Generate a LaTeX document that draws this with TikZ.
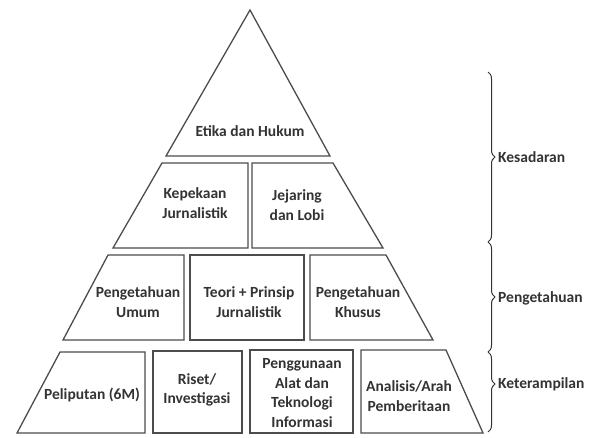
\documentclass[tikz,border=0pt]{standalone}
\usepackage{fontspec}
\setmainfont{Carlito}
\usepackage{tikz}
\usetikzlibrary{decorations.pathreplacing}

\begin{document}
\begin{tikzpicture}[x=1pt,y=-1pt,
  block/.style={draw=black!70,line width=1.3pt,line join=miter},
  label/.style={font=\fontsize{15.5}{19.5}\selectfont\bfseries,align=center,text=black!80,inner sep=0pt},
  side/.style={font=\fontsize{15.5}{19.5}\selectfont\bfseries,anchor=west,text=black!80,inner sep=0pt},
  curly/.style={draw=black!80,line width=1pt,decorate,decoration={brace,amplitude=7pt}}]
\useasboundingbox (0,0) rectangle (596,437);
\draw[block] (250,10) -- (330,156) -- (166,156) -- cycle;
\draw[block] (162,163) -- (248,163) -- (248,248) -- (113,248) -- cycle;
\draw[block] (252,163) -- (333,163) -- (383,248) -- (252,248) -- cycle;
\draw[block] (108,255) -- (184,255) -- (184,340) -- (63,340) -- cycle;
\draw[block] (190,255) rectangle (304,340);
\draw[block] (310,255) -- (386,255) -- (433,340) -- (310,340) -- cycle;
\draw[block] (60,352) -- (145,352) -- (145,433) -- (17,433) -- cycle;
\draw[block] (153,351) rectangle (242,433);
\draw[block] (250,350) rectangle (353,433);
\draw[block] (361,350) -- (446,350) -- (483,433) -- (361,433) -- cycle;
\node[label] (etika) at (250,131) {Etika dan Hukum};
\node[label] (kepekaan) at (195,203) {Kepekaan\\Jurnalistik};
\node[label] (jejaring) at (297,205) {Jejaring\\dan Lobi};
\node[label] (umum) at (138,302) {Pengetahuan\\Umum};
\node[label] (teori) at (249,302) {Teori + Prinsip\\Jurnalistik};
\node[label] (khusus) at (358,302) {Pengetahuan\\Khusus};
\node[label] (liputan) at (92,395) {Peliputan (6M)};
\node[label] (riset) at (197,390) {Riset/\\Investigasi};
\node[label] (alat) at (302,393) {Penggunaan\\Alat dan\\Teknologi\\Informasi};
\node[label] (analisis) at (409,396) {Analisis/Arah\\Pemberitaan};
\draw[curly] (488,72) -- (488,242);
\draw[curly] (488,242) -- (488,352);
\draw[curly,decoration={aspect=0.4}] (488,352) -- (488,432);
\node[side] (kesadaran) at (498,157) {Kesadaran};
\node[side] (pengetahuan) at (498,298) {Pengetahuan};
\node[side] (terampil) at (498,384) {Keterampilan};
\end{tikzpicture}
\end{document}
